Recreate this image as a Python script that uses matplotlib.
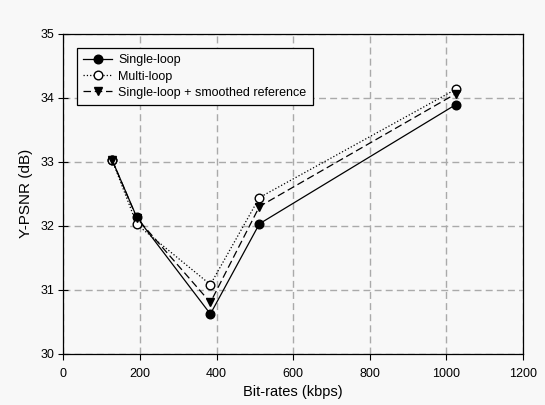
import matplotlib
matplotlib.use("Agg")
import matplotlib.pyplot as plt

plt.rcParams['font.family'] = ['Liberation Sans', 'DejaVu Sans']

bitrates = [128, 192, 384, 512, 1024]
single_loop = [33.02, 32.13, 30.62, 32.03, 33.89]
multi_loop = [33.02, 32.02, 31.08, 32.44, 34.13]
smoothed = [33.02, 32.12, 30.80, 32.30, 34.06]

bg = '#f8f8f8'
fig = plt.figure(figsize=(5.45, 4.05), dpi=100, facecolor=bg)
ax = fig.add_axes([0.1161, 0.1267, 0.8435, 0.790])
ax.set_facecolor(bg)

ax.plot(bitrates, single_loop, '-', color='black', lw=0.9, marker='o', ms=6.2,
        mfc='black', mec='black', label='Single-loop', zorder=3)
ax.plot(bitrates, multi_loop, ':', color='black', lw=0.9, marker='o', ms=6.2,
        mfc='white', mec='black', label='Multi-loop', zorder=3)
ax.plot(bitrates, smoothed, '--', color='black', lw=0.9, dashes=(6, 3), marker='v', ms=6.2,
        mfc='black', mec='black', label='Single-loop + smoothed reference', zorder=3)

ax.set_xlim(0, 1200)
ax.set_ylim(30, 35)
ax.set_xticks([0, 200, 400, 600, 800, 1000, 1200])
ax.set_yticks([30, 31, 32, 33, 34, 35])
ax.grid(True, color='#aaaaaa', ls=(0, (5, 3)), lw=1.0)
ax.set_axisbelow(True)
ax.tick_params(axis='x', direction='out', length=4, width=0.8, labelsize=9, pad=6)
ax.tick_params(axis='y', direction='inout', length=7, width=0.8, labelsize=9, pad=3)
for s in ax.spines.values():
    s.set_linewidth(0.9)

ax.set_xlabel('Bit-rates (kbps)', fontsize=10.5, labelpad=4)
ax.set_ylabel('Y-PSNR (dB)', fontsize=11, labelpad=5)

leg = ax.legend(loc='upper left', bbox_to_anchor=(0.03, 0.955), fontsize=9,
                frameon=True, fancybox=False, edgecolor='black', facecolor=bg,
                framealpha=1, borderpad=0.5, labelspacing=0.33, handlelength=2.3,
                handletextpad=0.5, borderaxespad=0)
leg.get_frame().set_linewidth(0.9)

fig.savefig('out.png', dpi=100, facecolor=bg)
